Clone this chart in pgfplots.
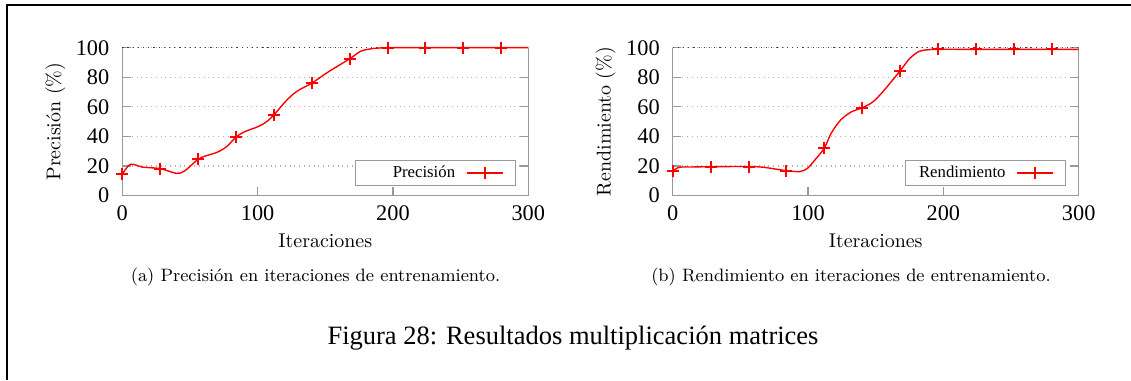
\documentclass[border=0pt]{standalone}
\usepackage{fontspec}
\newfontfamily\tnr{Liberation Serif}
\usepackage{pgfplots}
\pgfplotsset{compat=1.18}
\pgfplotsset{
 myaxis/.style={
  scale only axis, width=203bp, height=73.9bp,
  xmin=0,xmax=300,ymin=0,ymax=100,
  axis x line*=bottom, axis y line*=box,
  axis line style={gray!80, line width=0.6bp, -},
  xtick={0,100,200,300}, ytick={0,20,...,100},
  tick align=inside, major tick length=4.3bp,
  tick style={gray!80, line width=0.6bp},
  ymajorgrids, grid style={gray!60, dotted, line width=0.6bp},
  /pgf/number format/assume math mode=true,
  every tick label/.append style={font=\tnr\fontsize{11.2}{13}\selectfont, inner sep=0pt},
  xticklabel style={anchor=base, yshift=-12.4bp},
  yticklabel style={anchor=east, xshift=-6.3bp},
  label style={font=\tnr\fontsize{11.7}{14}\selectfont},
  every axis x label/.style={at={(axis description cs:0.5,-0.355)}, anchor=base},
  every axis y label/.style={at={(axis description cs:-0.165,0.5)}, rotate=90, anchor=center},
  legend style={at={(axis description cs:0.969,0.0643)}, anchor=south east, draw=gray!80, line width=0.6bp, fill=white,
    font=\tnr\fontsize{8.4}{10}\selectfont, inner xsep=5.8bp, inner ysep=1.45bp,
    nodes={inner sep=0pt, text height=0.7em, text depth=0.25em}, column sep=5.5bp},
  legend plot pos=right,
  legend image code/.code={\draw[mark repeat=2,mark phase=2,##1] plot coordinates {(0bp,0bp) (9bp,0bp) (18bp,0bp)};},
  clip=false,
 },
 curve/.style={red, line width=0.7bp, smooth, forget plot},
 pts/.style={red, only marks, mark=+, mark size=3bp, mark options={line width=1bp}, forget plot},
}
\begin{document}
\begin{tikzpicture}[x=1bp,y=1bp]
\path[use as bounding box] (0,0) rectangle (565.5,190);
\draw[line width=1.1bp] (3.65,0) -- (3.65,187.3) -- (565.5,187.3);

\begin{axis}[myaxis, at={(61.15bp,92.25bp)}, anchor=south west, ylabel={Precisión (\%)}, xlabel={Iteraciones}]
\draw[black!75, dotted, line width=0.6bp] (axis cs:0,100) -- (axis cs:300,100);
\addplot[curve] coordinates {
(0,14.4) (6,21.1) (15,19.2) (28,18.2) (40,15.0) (46,16.6) (56,24.5) (62,26.9) (70,29.2) (77,33) (84,39.5) (90,43) (100,46.5) (106,49.5) (112,54.5) (121,64) (129,70.5) (140,76) (152,83.5) (168,92.5) (176,97.5) (184,99.3) (196,100) (224,100) (252,100) (280,100) (300,100)};
\addplot[pts] coordinates {(0,14.4) (28,18.2) (56,24.5) (84,39.5) (112,54.5) (140,76) (168,92.5) (196,100) (224,100) (252,100) (280,100)};
\addlegendimage{red, line width=0.7bp, mark=+, mark size=3bp, mark options={line width=1bp}}
\addlegendentry{\makebox[44.2bp][r]{Precisión}}
\end{axis}

\begin{axis}[myaxis, at={(336.35bp,92.25bp)}, anchor=south west, ylabel={Rendimiento (\%)}, xlabel={Iteraciones}]
\draw[black!75, dotted, line width=0.6bp] (axis cs:0,100) -- (axis cs:300,100);
\addplot[curve] coordinates {
(0,16.6) (5,19.1) (15,19.3) (28,19.5) (56,19.6) (67,19.1) (84,16.8) (94,16.2) (99.6,18.4) (105,24) (112,32) (117,42) (124,51) (132,56.6) (140,59.3) (148,63.4) (156,71) (168,84.3) (175,92.6) (182,97.5) (188.5,98.6) (196,98.9) (224,98.9) (252,98.9) (280,98.9) (300,98.9)};
\addplot[pts] coordinates {(0,16.6) (28,19.5) (56,19.6) (84,16.8) (112,32) (140,59.3) (168,84.3) (196,98.9) (224,98.9) (252,98.9) (280,98.9)};
\addlegendimage{red, line width=0.7bp, mark=+, mark size=3bp, mark options={line width=1bp}}
\addlegendentry{\makebox[44.2bp][r]{Rendimiento}}
\end{axis}

\node[font=\fontsize{9.0}{11}\selectfont, anchor=base] at (157.75,49.5) {(a) Precisión en iteraciones de entrenamiento.};
\node[font=\fontsize{9.0}{11}\selectfont, anchor=base] at (425.5,49.5) {(b) Rendimiento en iteraciones de entrenamiento.};
\node[font=\tnr\fontsize{13.3}{15}\selectfont, anchor=base] at (286.5,18) {Figura 28: Resultados multiplicación matrices};
\end{tikzpicture}
\end{document}
